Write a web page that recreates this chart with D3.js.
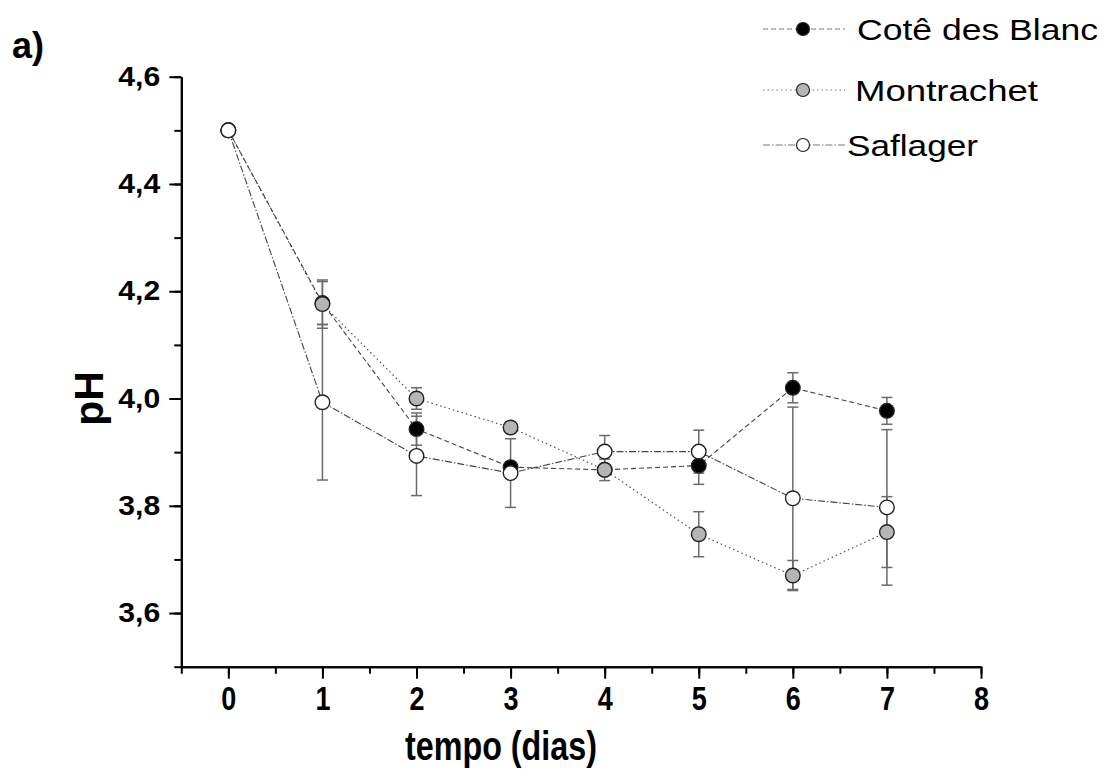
<!DOCTYPE html>
<html>
<head>
<meta charset="utf-8">
<script src="https://cdn.jsdelivr.net/npm/d3@7/dist/d3.min.js"></script>
<style>
  body { margin: 0; background: #fff; }
  svg { font-family: 'Liberation Sans', Arial, sans-serif; }
</style>
</head>
<body>
<div id="chart"></div>
<script>
// data (pH over fermentation days)
var days = [0, 1, 2, 3, 4, 5, 6, 7];
var coteMean = [4.500, 4.178, 3.943, 3.872, 3.867, 3.875, 4.020, 3.977];
var coteErr  = [0, 0.040, 0.030, 0.010, 0.020, 0.035, 0.028, 0.025];
var montMean = [4.500, 4.176, 4.000, 3.946, 3.867, 3.747, 3.670, 3.751];
var montErr  = [0, 0.045, 0.020, 0.010, 0.010, 0.042, 0.028, 0.066];
var safMean  = [4.500, 3.993, 3.893, 3.861, 3.901, 3.901, 3.814, 3.797];
var safErr   = [0, 0.145, 0.074, 0.064, 0.030, 0.040, 0.170, 0.145];
var seriesNames = ['Cotê des Blanc', 'Montrachet', 'Saflager'];
var xTicks = [0, 1, 2, 3, 4, 5, 6, 7, 8];
var yTicks = [3.6, 3.8, 4.0, 4.2, 4.4, 4.6];

var width = 1109, height = 780;

var svg = d3.select('#chart').append('svg')
    .attr('width', width)
    .attr('height', height);

var x = d3.scaleLinear().domain([-0.5, 8]).range([181.3, 981]);
var y = d3.scaleLinear().domain([3.5, 4.6]).range([666.7, 76.7]);

var series = [
    {name: seriesNames[0], mean: coteMean, err: coteErr, fill: '#000', dash: '5,3'},
    {name: seriesNames[1], mean: montMean, err: montErr, fill: '#b5b5b5', dash: '1.5,3'},
    {name: seriesNames[2], mean: safMean, err: safErr, fill: '#fff', dash: '7,2,1.5,2'}
];

// axes
var fmt = function (d) { return d3.format('.1f')(d).replace('.', ','); };

svg.append('g')
    .attr('transform', 'translate(' + x(-0.5) + ',0)')
    .call(d3.axisLeft(y).tickValues(d3.range(3.5, 4.65, 0.1)).tickSize(7).tickFormat('').tickSizeOuter(0));
svg.append('g')
    .attr('transform', 'translate(0,' + y(3.5) + ')')
    .call(d3.axisBottom(x).tickValues(d3.range(-0.5, 8.1, 0.5)).tickSize(7).tickFormat('').tickSizeOuter(0));

var yAxis = svg.append('g')
    .attr('transform', 'translate(' + x(-0.5) + ',0)')
    .call(d3.axisLeft(y).tickValues(yTicks).tickSize(12).tickPadding(9).tickFormat(fmt).tickSizeOuter(0));
var xAxis = svg.append('g')
    .attr('transform', 'translate(0,' + y(3.5) + ')')
    .call(d3.axisBottom(x).tickValues(xTicks).tickSize(12).tickPadding(8).tickFormat(d3.format('d')).tickSizeOuter(0));

svg.selectAll('.domain').attr('stroke', '#000').attr('stroke-width', 2);
svg.selectAll('.tick line').attr('stroke', '#000').attr('stroke-width', 2);
yAxis.selectAll('text')
    .attr('font-size', 27).attr('font-weight', 'bold').attr('fill', '#000')
    .attr('font-family', "'Liberation Sans', Arial, sans-serif")
    .attr('textLength', 42).attr('lengthAdjust', 'spacingAndGlyphs');
xAxis.selectAll('text')
    .attr('font-size', 33).attr('font-weight', 'bold').attr('fill', '#000')
    .attr('font-family', "'Liberation Sans', Arial, sans-serif")
    .attr('textLength', 15).attr('lengthAdjust', 'spacingAndGlyphs');

// axis titles
svg.append('text')
    .attr('x', 501)
    .attr('y', 760)
    .attr('text-anchor', 'middle')
    .attr('font-size', 41).attr('font-weight', 'bold')
    .attr('textLength', 192).attr('lengthAdjust', 'spacingAndGlyphs')
    .text('tempo (dias)');

svg.append('text')
    .attr('transform', 'translate(103,' + y(4.0) + ') rotate(-90)')
    .attr('text-anchor', 'middle')
    .attr('font-size', 41).attr('font-weight', 'bold')
    .text('pH');

svg.append('text')
    .attr('x', 12).attr('y', 58)
    .attr('font-size', 36).attr('font-weight', 'bold')
    .text('a)');

// lines
var line = d3.line()
    .x(function (d, i) { return x(days[i]); })
    .y(function (d) { return y(d); });

series.forEach(function (s) {
    svg.append('path')
        .attr('d', line(s.mean))
        .attr('fill', 'none')
        .attr('stroke', '#444')
        .attr('stroke-width', 1.1)
        .attr('stroke-dasharray', s.dash);
});

// error bars
series.forEach(function (s) {
    var g = svg.append('g').attr('stroke', '#6a6a6a').attr('stroke-width', 1.5);
    days.forEach(function (d, i) {
        if (!s.err[i]) return;
        var cx = x(d), top = y(s.mean[i] + s.err[i]), bot = y(s.mean[i] - s.err[i]);
        g.append('line').attr('x1', cx).attr('x2', cx).attr('y1', top).attr('y2', bot);
        g.append('line').attr('x1', cx - 5.5).attr('x2', cx + 5.5).attr('y1', top).attr('y2', top);
        g.append('line').attr('x1', cx - 5.5).attr('x2', cx + 5.5).attr('y1', bot).attr('y2', bot);
    });
});

// markers
series.forEach(function (s) {
    svg.append('g').selectAll('circle')
        .data(s.mean)
        .join('circle')
        .attr('cx', function (d, i) { return x(days[i]); })
        .attr('cy', function (d) { return y(d); })
        .attr('r', 7.3)
        .attr('fill', s.fill)
        .attr('stroke', '#222')
        .attr('stroke-width', 1.4);
});

// legend
var legendRows = [
    {y: 29, textX: 857, len: 241},
    {y: 90, textX: 855, len: 183},
    {y: 145, textX: 847, len: 131}
];
series.forEach(function (s, i) {
    var r = legendRows[i];
    var g = svg.append('g');
    g.append('line')
        .attr('x1', 763).attr('x2', 845).attr('y1', r.y).attr('y2', r.y)
        .attr('stroke', '#777').attr('stroke-width', 1)
        .attr('stroke-dasharray', s.dash);
    g.append('circle')
        .attr('cx', 803).attr('cy', r.y).attr('r', 6.5)
        .attr('fill', s.fill).attr('stroke', '#222').attr('stroke-width', 1.2);
    g.append('text')
        .attr('x', r.textX).attr('y', r.y + 11)
        .attr('font-size', 30)
        .attr('textLength', r.len).attr('lengthAdjust', 'spacingAndGlyphs')
        .text(s.name);
});
</script>
</body>
</html>
